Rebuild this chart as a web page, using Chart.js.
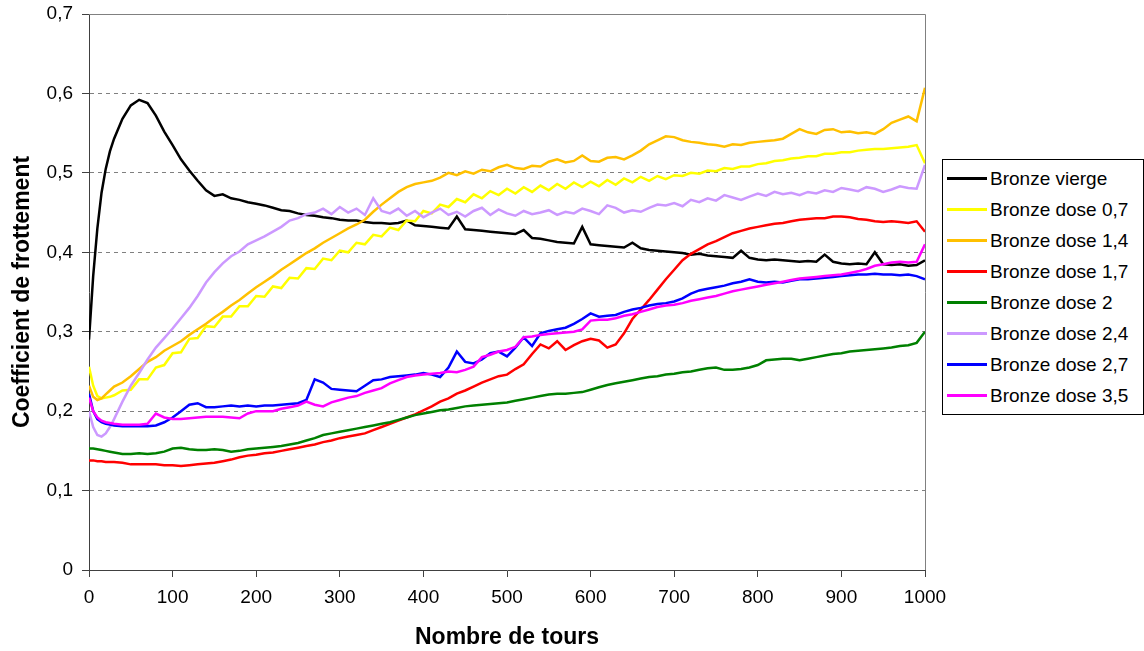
<!DOCTYPE html>
<html lang="fr">
<head>
<meta charset="utf-8">
<title>Coefficient de frottement</title>
<script src="https://cdn.jsdelivr.net/npm/chart.js@4.4.1/dist/chart.umd.min.js"></script>
<style>
  html, body { margin: 0; padding: 0; background: #fff; }
  #wrap { position: relative; width: 1144px; height: 651px; }
  #legend {
    position: absolute; left: 942px; top: 159px; width: 202px; height: 256px;
    box-sizing: border-box; border: 1px solid #000; background: #fff;
    font: 19px "Liberation Sans", Arial, sans-serif; color: #000;
  }
  .row { position: absolute; left: 0; height: 31px; line-height: 31px; white-space: nowrap; }
  .row span.swatch { position: absolute; left: 4px; top: 14px; width: 40px; height: 3px; }
  .row span.txt { position: absolute; left: 47px; top: 0; }
</style>
</head>
<body>
<div id="wrap">
  <canvas id="chart" width="1144" height="651"></canvas>
  <div id="legend"></div>
</div>
<script>
// x positions (nombre de tours) shared by all series
const tours = [0, 5, 10, 15, 20, 25, 30,
  40, 50, 60, 70, 80, 90,
  100, 110, 120, 130, 140, 150, 160, 170, 180, 190,
  200, 210, 220, 230, 240, 250, 260, 270, 280, 290,
  300, 310, 320, 330, 340, 350, 360, 370, 380, 390,
  400, 410, 420, 430, 440, 450, 460, 470, 480, 490,
  500, 510, 520, 530, 540, 550, 560, 570, 580, 590,
  600, 610, 620, 630, 640, 650, 660, 670, 680, 690,
  700, 710, 720, 730, 740, 750, 760, 770, 780, 790,
  800, 810, 820, 830, 840, 850, 860, 870, 880, 890,
  900, 910, 920, 930, 940, 950, 960, 970, 980, 990,
  1000];

const vierge = [0.29, 0.37, 0.43, 0.475, 0.505, 0.527, 0.543,
  0.568, 0.585, 0.592, 0.588, 0.572, 0.552,
  0.535, 0.517, 0.503, 0.49, 0.478, 0.471, 0.473, 0.468, 0.466, 0.463,
  0.461, 0.459, 0.456, 0.453, 0.452, 0.449, 0.447, 0.446, 0.444, 0.443,
  0.441, 0.44, 0.44, 0.438, 0.437, 0.437, 0.436, 0.437, 0.44, 0.434,
  0.433, 0.432, 0.431, 0.43, 0.445, 0.429, 0.428, 0.427, 0.426, 0.425,
  0.424, 0.423, 0.428, 0.418, 0.417, 0.415, 0.413, 0.412, 0.411, 0.432,
  0.41, 0.409, 0.408, 0.407, 0.406, 0.412, 0.405, 0.403, 0.402, 0.401,
  0.4, 0.399, 0.397, 0.398, 0.396, 0.395, 0.394, 0.393, 0.402, 0.393,
  0.391, 0.39, 0.391, 0.39, 0.389, 0.388, 0.389, 0.388, 0.397, 0.388,
  0.386, 0.385, 0.386, 0.385, 0.4, 0.385, 0.384, 0.385, 0.383, 0.384,
  0.39];

const dose07 = [0.256, 0.232, 0.219, 0.216, 0.217, 0.218, 0.22,
  0.226, 0.227, 0.24, 0.24, 0.255, 0.258,
  0.273, 0.274, 0.291, 0.292, 0.307, 0.306, 0.319, 0.319, 0.332, 0.332,
  0.345, 0.344, 0.357, 0.355, 0.368, 0.367, 0.38, 0.379, 0.392, 0.39,
  0.402, 0.4, 0.412, 0.41, 0.422, 0.42, 0.431, 0.428, 0.44, 0.439,
  0.452, 0.449, 0.46, 0.457, 0.467, 0.463, 0.473, 0.468, 0.477, 0.472,
  0.48, 0.474, 0.482, 0.476, 0.484, 0.478, 0.486, 0.48, 0.488, 0.482,
  0.489, 0.483, 0.491, 0.485, 0.493, 0.488, 0.495, 0.49, 0.496, 0.492,
  0.497, 0.496, 0.5, 0.499, 0.503, 0.502, 0.506, 0.505, 0.508, 0.508,
  0.511, 0.512, 0.515, 0.516, 0.518, 0.519, 0.521, 0.521, 0.524, 0.524,
  0.526, 0.526, 0.528, 0.529, 0.53, 0.53, 0.531, 0.532, 0.533, 0.535,
  0.512];

const dose14 = [0.232, 0.218, 0.214, 0.216, 0.221, 0.226, 0.231,
  0.236, 0.244, 0.253, 0.262, 0.268, 0.276,
  0.282, 0.288, 0.296, 0.303, 0.31, 0.318, 0.325, 0.333, 0.34, 0.348,
  0.356, 0.363, 0.37, 0.378, 0.385, 0.392, 0.399, 0.405, 0.412, 0.418,
  0.424, 0.43, 0.435, 0.441, 0.451, 0.46, 0.468, 0.476, 0.482, 0.486,
  0.488, 0.49, 0.494, 0.5, 0.497, 0.502, 0.499, 0.504, 0.502, 0.507,
  0.51, 0.506, 0.505, 0.509, 0.508, 0.514, 0.517, 0.513, 0.515, 0.522,
  0.515, 0.514, 0.519, 0.52, 0.517, 0.522, 0.528, 0.536, 0.541, 0.546,
  0.545, 0.541, 0.539, 0.538, 0.536, 0.535, 0.533, 0.536, 0.535, 0.538,
  0.539, 0.54, 0.541, 0.543, 0.549, 0.555, 0.551, 0.549, 0.554, 0.555,
  0.551, 0.552, 0.55, 0.551, 0.549, 0.555, 0.563, 0.567, 0.571, 0.565,
  0.607];

const dose17 = [0.138, 0.138, 0.137, 0.137, 0.136, 0.136, 0.136,
  0.135, 0.133, 0.133, 0.133, 0.133, 0.132,
  0.132, 0.131, 0.132, 0.133, 0.134, 0.135, 0.137, 0.139, 0.142, 0.144,
  0.145, 0.147, 0.148, 0.15, 0.152, 0.154, 0.156, 0.158, 0.161, 0.163,
  0.166, 0.168, 0.17, 0.172, 0.176, 0.18, 0.184, 0.188, 0.192, 0.196,
  0.201, 0.206, 0.212, 0.216, 0.222, 0.226, 0.231, 0.236, 0.24, 0.244,
  0.246, 0.253, 0.259, 0.272, 0.284, 0.279, 0.288, 0.277, 0.283, 0.288,
  0.291, 0.289, 0.28, 0.284, 0.298, 0.316, 0.328, 0.34, 0.353, 0.366,
  0.378, 0.39, 0.398, 0.404, 0.41, 0.414, 0.419, 0.424, 0.427, 0.43,
  0.432, 0.434, 0.436, 0.437, 0.439, 0.441, 0.442, 0.443, 0.443, 0.445,
  0.445, 0.444, 0.442, 0.441, 0.439, 0.438, 0.439, 0.438, 0.437, 0.439,
  0.426];

const dose2 = [0.153, 0.153, 0.152, 0.151, 0.15, 0.149, 0.148,
  0.146, 0.146, 0.147, 0.146, 0.147, 0.149,
  0.153, 0.154, 0.152, 0.151, 0.151, 0.152, 0.151, 0.149, 0.15, 0.152,
  0.153, 0.154, 0.155, 0.156, 0.158, 0.16, 0.163, 0.166, 0.17, 0.172,
  0.174, 0.176, 0.178, 0.18, 0.182, 0.184, 0.186, 0.189, 0.192, 0.195,
  0.197, 0.199, 0.201, 0.202, 0.204, 0.206, 0.207, 0.208, 0.209, 0.21,
  0.211, 0.213, 0.215, 0.217, 0.219, 0.221, 0.222, 0.222, 0.223, 0.224,
  0.227, 0.23, 0.233, 0.235, 0.237, 0.239, 0.241, 0.243, 0.244, 0.246,
  0.247, 0.249, 0.25, 0.252, 0.254, 0.255, 0.252, 0.252, 0.253, 0.255,
  0.258, 0.264, 0.265, 0.266, 0.266, 0.264, 0.266, 0.268, 0.27, 0.272,
  0.273, 0.275, 0.276, 0.277, 0.278, 0.279, 0.28, 0.282, 0.283, 0.286,
  0.3];

const dose24 = [0.2, 0.18, 0.17, 0.168, 0.172, 0.18, 0.19,
  0.212, 0.232, 0.248, 0.265, 0.28, 0.292,
  0.304, 0.317, 0.33, 0.345, 0.362, 0.375, 0.386, 0.395, 0.401, 0.41,
  0.415, 0.42, 0.426, 0.432, 0.44, 0.443, 0.448, 0.45, 0.455, 0.448,
  0.457, 0.45, 0.455, 0.447, 0.468, 0.452, 0.449, 0.455, 0.446, 0.452,
  0.444, 0.45, 0.455, 0.447, 0.451, 0.445, 0.452, 0.456, 0.447, 0.454,
  0.449, 0.446, 0.452, 0.448, 0.45, 0.453, 0.447, 0.451, 0.449, 0.455,
  0.452, 0.448, 0.459, 0.456, 0.45, 0.453, 0.451, 0.456, 0.46, 0.459,
  0.462, 0.458, 0.466, 0.463, 0.468, 0.465, 0.472, 0.469, 0.466, 0.47,
  0.474, 0.471, 0.476, 0.473, 0.475, 0.472, 0.476, 0.474, 0.478, 0.476,
  0.481, 0.479, 0.477, 0.482, 0.48, 0.476, 0.479, 0.483, 0.481, 0.48,
  0.51];

const dose27 = [0.222, 0.2, 0.19, 0.186, 0.184, 0.183, 0.182,
  0.181, 0.181, 0.181, 0.181, 0.182, 0.186,
  0.192, 0.2, 0.208, 0.21, 0.205, 0.205, 0.206, 0.207, 0.206, 0.207,
  0.206, 0.207, 0.207, 0.208, 0.209, 0.21, 0.214, 0.24, 0.236, 0.228,
  0.227, 0.226, 0.225, 0.232, 0.239, 0.24, 0.243, 0.244, 0.245, 0.246,
  0.248, 0.246, 0.243, 0.255, 0.275, 0.262, 0.26, 0.265, 0.273, 0.275,
  0.269, 0.28, 0.293, 0.282, 0.298, 0.301, 0.303, 0.305, 0.31, 0.316,
  0.323, 0.319, 0.32, 0.321, 0.325, 0.328, 0.33, 0.333, 0.335, 0.336,
  0.338, 0.342, 0.348, 0.352, 0.354, 0.356, 0.358, 0.361, 0.363, 0.366,
  0.363, 0.362, 0.363, 0.362, 0.364, 0.366, 0.366, 0.367, 0.368, 0.369,
  0.37, 0.371, 0.372, 0.372, 0.373, 0.372, 0.372, 0.371, 0.372, 0.37,
  0.366];

const dose35 = [0.217, 0.2, 0.192, 0.188, 0.186, 0.185, 0.184,
  0.183, 0.183, 0.183, 0.184, 0.197, 0.192,
  0.19, 0.19, 0.191, 0.192, 0.193, 0.193, 0.193, 0.192, 0.191, 0.197,
  0.2, 0.2, 0.2, 0.203, 0.205, 0.207, 0.212, 0.208, 0.206, 0.211,
  0.214, 0.217, 0.219, 0.223, 0.226, 0.229, 0.235, 0.239, 0.243, 0.245,
  0.246, 0.247, 0.248, 0.25, 0.249, 0.252, 0.256, 0.268, 0.271, 0.275,
  0.277, 0.281, 0.293, 0.294, 0.296, 0.297, 0.298, 0.299, 0.3, 0.303,
  0.314, 0.315, 0.315, 0.317, 0.32, 0.322, 0.325, 0.328, 0.331, 0.333,
  0.334, 0.336, 0.339, 0.341, 0.343, 0.345, 0.348, 0.351, 0.353, 0.355,
  0.357, 0.359, 0.361, 0.363, 0.365, 0.367, 0.368, 0.369, 0.37, 0.371,
  0.372, 0.374, 0.376, 0.379, 0.383, 0.385, 0.387, 0.388, 0.387, 0.388,
  0.41];

const seriesNames = ['Bronze vierge', 'Bronze dose 0,7', 'Bronze dose 1,4', 'Bronze dose 1,7',
  'Bronze dose 2', 'Bronze dose 2,4', 'Bronze dose 2,7', 'Bronze dose 3,5'];
const seriesValues = [vierge, dose07, dose14, dose17, dose2, dose24, dose27, dose35];
const seriesColors = ['#000000', '#FFFF00', '#FFC000', '#FF0000', '#008000', '#CC99FF', '#0000FF', '#FF00FF'];

const FONT = '"Liberation Sans", Arial, sans-serif';

// build datasets, later series drawn on top (like the original)
const datasets = seriesNames.map((name, i) => ({
  label: name,
  data: tours.map((t, k) => ({ x: t, y: seriesValues[i][k] })),
  borderColor: seriesColors[i],
  backgroundColor: seriesColors[i],
  borderWidth: 2.5,
  pointRadius: 0,
  tension: 0,
  fill: false,
  order: seriesNames.length - i
}));

// gray frame on the top and right side of the plot area
const frame = {
  id: 'frame',
  beforeDatasetsDraw(chart) {
    const { ctx, chartArea: a } = chart;
    ctx.save();
    ctx.strokeStyle = '#808080';
    ctx.lineWidth = 1;
    ctx.beginPath();
    ctx.moveTo(a.left, a.top + 0.5);
    ctx.lineTo(a.right + 0.5, a.top + 0.5);
    ctx.lineTo(a.right + 0.5, a.bottom);
    ctx.stroke();
    ctx.restore();
  }
};

const ctx = document.getElementById('chart').getContext('2d');
new Chart(ctx, {
  type: 'line',
  data: { datasets },
  options: {
    responsive: false,
    animation: false,
    devicePixelRatio: 1,
    layout: { padding: { top: 14, right: 219, left: 0, bottom: 0 } },
    plugins: { legend: { display: false }, tooltip: { enabled: false } },
    scales: {
      x: {
        type: 'linear',
        min: 0, max: 1000,
        afterFit: (s) => { s.height = 81; s.paddingLeft = 0; s.paddingRight = 0; },
        ticks: { stepSize: 100, color: '#000', padding: 9, font: { family: FONT, size: 19 }, maxRotation: 0,
                 callback: (v) => String(v) },
        grid: { drawOnChartArea: false, drawTicks: true, tickLength: 7, color: '#404040' },
        border: { color: '#404040', width: 1 },
        title: { display: true, text: 'Nombre de tours', color: '#000',
                 font: { family: FONT, size: 23, weight: 'bold' }, padding: { top: 0, bottom: 0 } }
      },
      y: {
        min: 0, max: 0.7,
        afterFit: (s) => { s.width = 89; s.paddingTop = 0; s.paddingBottom = 0; },
        ticks: {
          stepSize: 0.1, color: '#000', padding: 9, font: { family: FONT, size: 19 },
          callback: (v) => { const r = Math.round(v * 10) / 10; return r === 0 ? '0' : r.toFixed(1).replace('.', ','); }
        },
        grid: {
          drawTicks: true, tickLength: 7,
          color: (c) => {
            const v = Math.round(c.tick.value * 10);
            return (v === 0 || v === 7) ? 'rgba(0,0,0,0)' : '#808080';
          },
          tickColor: '#404040'
        },
        border: { color: '#404040', width: 1, dash: [4, 4] },
        title: { display: true, text: 'Coefficient de frottement', color: '#000',
                 font: { family: FONT, size: 23, weight: 'bold' }, padding: { top: 9, bottom: 0 } }
      }
    }
  },
  plugins: [frame]
});

// legend box on the right
const legend = document.getElementById('legend');
seriesNames.forEach((name, i) => {
  const row = document.createElement('div');
  row.className = 'row';
  row.style.top = (3 + 31 * i) + 'px';
  const sw = document.createElement('span');
  sw.className = 'swatch';
  sw.style.background = seriesColors[i];
  const txt = document.createElement('span');
  txt.className = 'txt';
  txt.textContent = name;
  row.appendChild(sw);
  row.appendChild(txt);
  legend.appendChild(row);
});
</script>
</body>
</html>
